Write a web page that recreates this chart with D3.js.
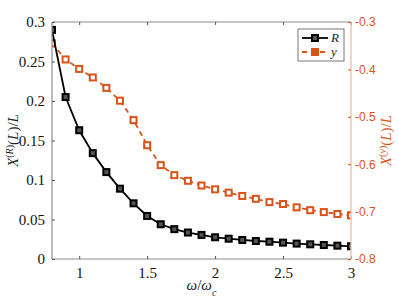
<!DOCTYPE html>
<html>
<head>
<meta charset="utf-8">
<script src="https://cdn.jsdelivr.net/npm/d3@7"></script>
<style>
  body { margin: 0; background: #fff; }
  svg { display: block; }
  text.tx { font-family: "Liberation Serif", serif; }
  text.ts { font-family: "Liberation Sans", sans-serif; }
</style>
</head>
<body>
<svg width="399" height="299"></svg>
<script>
const width = 399, height = 299;
const orange = '#D95319';

// omega / omega_c
const omega = [0.8,0.9,1.0,1.1,1.2,1.3,1.4,1.5,1.6,1.7,1.8,1.9,2.0,2.1,2.2,2.3,2.4,2.5,2.6,2.7,2.8,2.9,3.0];
// X^(R)(L)/L  (left axis)
const xR = [0.290,0.205,0.163,0.134,0.110,0.089,0.0705,0.0545,0.044,0.0378,0.0335,0.0305,0.0275,0.0257,0.0241,0.0228,0.0219,0.0207,0.0195,0.0186,0.0177,0.0169,0.0161];
// X^(y)(L)/L  (right axis)
const xY = [-0.345,-0.379,-0.399,-0.417,-0.439,-0.466,-0.507,-0.560,-0.602,-0.623,-0.635,-0.645,-0.653,-0.660,-0.667,-0.673,-0.680,-0.684,-0.691,-0.697,-0.701,-0.705,-0.708];

const xTicks = [1,1.5,2,2.5,3];
const yLeftTicks = [0,0.05,0.1,0.15,0.2,0.25,0.3];
const yRightTicks = [-0.8,-0.7,-0.6,-0.5,-0.4,-0.3];

const m = {left: 52, right: 48, top: 22, bottom: 40};
const x = d3.scaleLinear().domain([0.8,3]).range([m.left, width - m.right]);
const yL = d3.scaleLinear().domain([0,0.3]).range([height - m.bottom, m.top]);
const yR = d3.scaleLinear().domain([-0.8,-0.3]).range([height - m.bottom, m.top]);

const svg = d3.select('svg');

svg.append('clipPath').attr('id','clip')
  .append('rect')
  .attr('x', m.left).attr('y', m.top)
  .attr('width', x(3) - x(0.8)).attr('height', yL(0) - yL(0.3));

const plot = svg.append('g').attr('clip-path','url(#clip)');

// orange series (dashed)
const lineY = d3.line().x((d,i) => x(omega[i])).y(d => yR(d));
plot.append('path').datum(xY)
  .attr('d', lineY)
  .attr('fill','none').attr('stroke', orange).attr('stroke-width', 1.8)
  .attr('stroke-dasharray','5,4');
plot.selectAll('.my').data(xY).enter().append('rect')
  .attr('x', (d,i) => x(omega[i]) - 3).attr('y', d => yR(d) - 3)
  .attr('width', 6).attr('height', 6)
  .attr('fill', '#fff').attr('stroke', orange).attr('stroke-width', 2);

// black series
const lineR = d3.line().x((d,i) => x(omega[i])).y(d => yL(d));
plot.append('path').datum(xR)
  .attr('d', lineR)
  .attr('fill','none').attr('stroke', '#000').attr('stroke-width', 1.8);
plot.selectAll('.mr').data(xR).enter().append('rect')
  .attr('x', (d,i) => x(omega[i]) - 3).attr('y', d => yL(d) - 3)
  .attr('width', 6).attr('height', 6)
  .attr('fill', '#555').attr('stroke', '#000').attr('stroke-width', 2);

// axes
const axisGray = '#8c8c8c';
const gBottom = svg.append('g').attr('transform', `translate(0,${height - m.bottom})`)
  .call(d3.axisBottom(x).tickValues(xTicks).tickSize(-3).tickPadding(8).tickFormat(d3.format('')));
const gTop = svg.append('g').attr('transform', `translate(0,${m.top})`)
  .call(d3.axisTop(x).tickValues(xTicks).tickSize(-3).tickFormat(''));
const gLeft = svg.append('g').attr('transform', `translate(${m.left},0)`)
  .call(d3.axisLeft(yL).tickValues(yLeftTicks).tickSize(-3).tickPadding(7).tickFormat(d3.format('')));
const gRight = svg.append('g').attr('transform', `translate(${width - m.right},0)`)
  .call(d3.axisRight(yR).tickValues(yRightTicks).tickSize(-3).tickPadding(4).tickFormat(d3.format('.1f')));

[gBottom, gTop, gLeft].forEach(g => {
  g.attr('font-family', null).attr('font-size', null);
  g.select('.domain').attr('stroke', axisGray).attr('stroke-width', 1.2);
  g.selectAll('.tick line').attr('stroke', '#555');
  g.selectAll('.tick text').attr('class','tx').attr('fill','#111').style('font-size','15px');
});
gTop.select('.domain').attr('d', `M${m.left},0H${width - m.right}`);
gBottom.select('.domain').attr('d', `M${m.left},0H${width - m.right}`);
gLeft.select('.domain').attr('d', `M0,${yL(0)}V${yL(0.3)}`);
gRight.attr('font-family', null).attr('font-size', null);
gRight.select('.domain').attr('stroke', '#f2c1aa').attr('stroke-width', 1.4)
  .attr('d', `M0,${yR(-0.8)}V${yR(-0.3)}`);
gRight.selectAll('.tick line').attr('stroke', orange);
gRight.selectAll('.tick text').attr('class','ts').attr('fill', orange).style('font-size','12px')
  .text(d => d3.format('.1f')(d).replace('−','-'));

// axis labels
const xl = svg.append('text').attr('class','tx')
  .attr('x', (x(0.8) + x(3)) / 2).attr('y', 290)
  .attr('text-anchor','middle').style('font-size','15px').attr('fill','#222');
xl.append('tspan').style('font-style','italic').text('ω');
xl.append('tspan').text('/');
xl.append('tspan').style('font-style','italic').text('ω');
xl.append('tspan').style('font-style','italic').attr('baseline-shift','sub').style('font-size','10px').text('c');

function ylabel(sup, xpos, color) {
  const t = svg.append('text').attr('class','tx')
    .attr('transform', `translate(${xpos},${(yL(0) + yL(0.3)) / 2}) rotate(-90)`)
    .attr('text-anchor','middle').style('font-size','15px').attr('fill', color);
  t.append('tspan').style('font-style','italic').text('X');
  t.append('tspan').attr('baseline-shift','super').style('font-size','10px').text('(');
  t.append('tspan').attr('baseline-shift','super').style('font-size','10px').style('font-style','italic').text(sup);
  t.append('tspan').attr('baseline-shift','super').style('font-size','10px').text(')');
  t.append('tspan').text('(');
  t.append('tspan').style('font-style','italic').text('L');
  t.append('tspan').text(')/');
  t.append('tspan').style('font-style','italic').text('L');
}
ylabel('R', 18, '#222');
ylabel('y', 391, orange);

// legend
const lg = svg.append('g').attr('transform','translate(298,29)');
lg.append('rect').attr('width', 46).attr('height', 32)
  .attr('fill','#fff').attr('stroke','#777').attr('stroke-width', 1);
const entries = [
  {name:'R', color:'#000', dash:null, fill:'#555'},
  {name:'y', color:orange, dash:'5,4', fill:orange}
];
entries.forEach((e,i) => {
  const yy = 9 + i * 14;
  lg.append('line').attr('x1', 4).attr('x2', 30).attr('y1', yy).attr('y2', yy)
    .attr('stroke', e.color).attr('stroke-width', 1.8)
    .attr('stroke-dasharray', e.dash);
  lg.append('rect').attr('x', 17 - 3).attr('y', yy - 3).attr('width', 6).attr('height', 6)
    .attr('fill', e.fill).attr('stroke', e.color).attr('stroke-width', 2);
  lg.append('text').attr('class','tx').attr('x', 33).attr('y', yy + 4)
    .style('font-style','italic').style('font-size','13px').attr('fill','#222').text(e.name);
});
</script>
</body>
</html>
